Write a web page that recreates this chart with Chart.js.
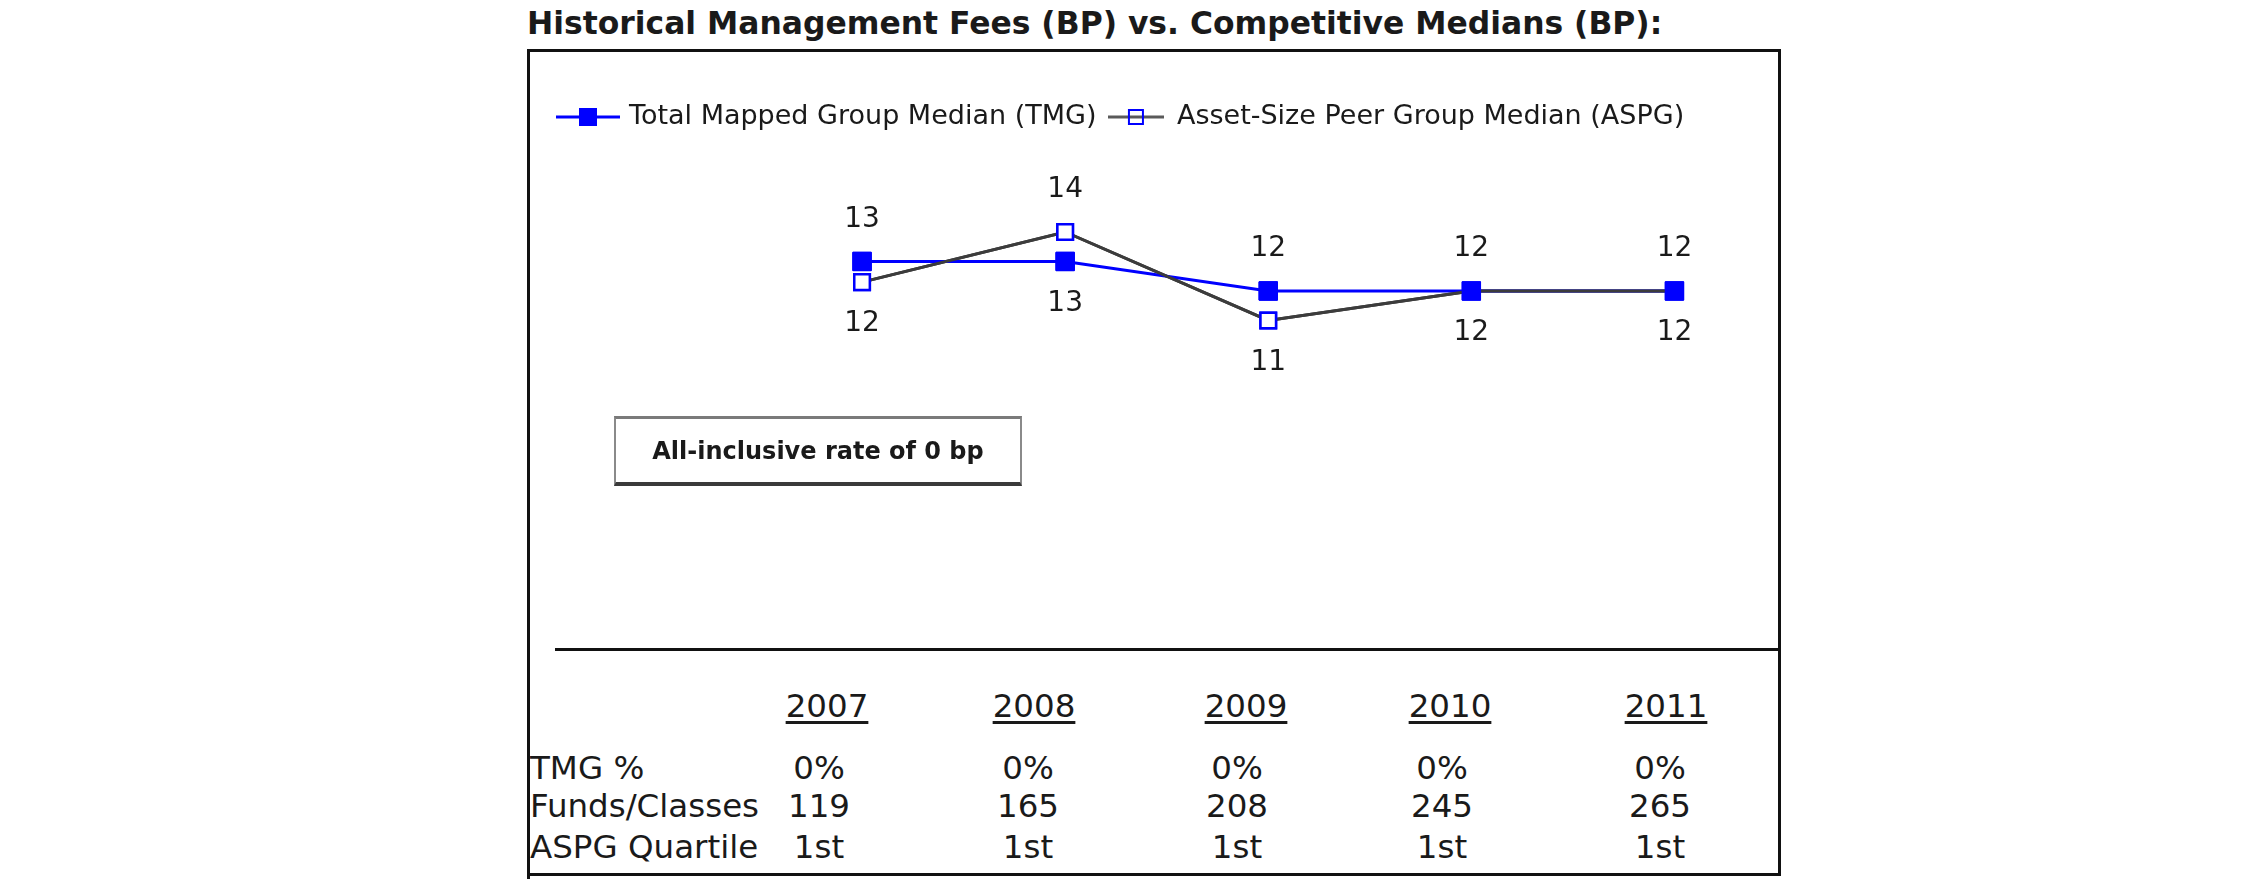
<!DOCTYPE html>
<html>
<head>
<meta charset="utf-8">
<title>Historical Management Fees vs. Competitive Medians</title>
<script src="https://cdn.jsdelivr.net/npm/chart.js@4.4.1/dist/chart.umd.min.js"></script>
<style>
  html, body { margin: 0; padding: 0; background: #fff; }
  body { width: 2250px; height: 895px; position: relative; overflow: hidden;
         font-family: "DejaVu Sans", Verdana, sans-serif; color: #1a1a1a; }
  .title { position: absolute; left: 527px; top: 8px; font-size: 31.4px; line-height: 31px;
           font-weight: bold; white-space: nowrap; }
  .frame { position: absolute; left: 527px; top: 49px; width: 1248px; height: 821px;
           border: 3px solid #111; }
  .tail { position: absolute; left: 527px; top: 873px; width: 3px; height: 6px; background: #111; }
  .rule { position: absolute; left: 555px; top: 648px; width: 1226px; height: 3px; background: #111; }
  #feeChart { position: absolute; left: 528px; top: 50px; }
  .note { position: absolute; left: 614px; top: 416px; width: 408px; height: 70px; box-sizing: border-box;
          border-top: 3px solid #7a7a7a; border-left: 2px solid #8a8a8a; border-right: 2px solid #8a8a8a;
          border-bottom: 4px solid #3a3a3a; display: flex; align-items: center; justify-content: center;
          font-size: 24px; font-weight: bold; white-space: nowrap; }
  .cell { position: absolute; font-size: 32.5px; line-height: 33px; white-space: nowrap; }
  .cell.mid { transform: translateX(-50%); }
  .cell.year { text-decoration: underline; text-decoration-thickness: 3px; text-underline-offset: 4px; }
</style>
</head>
<body>
<div class="title">Historical Management Fees (BP) vs. Competitive Medians (BP):</div>
<div class="frame"></div>
<div class="tail"></div>
<canvas id="feeChart" width="1262" height="598"></canvas>
<div class="note">All-inclusive rate of 0 bp</div>
<div class="rule"></div>
<div id="table"></div>
<script>
const years = ['2007', '2008', '2009', '2010', '2011'];
const tmgMedian = [13, 13, 12, 12, 12];
const aspgMedian = [12.3, 14, 11, 12, 12];
const tmgPct = ['0%', '0%', '0%', '0%', '0%'];
const fundsClasses = [119, 165, 208, 245, 265];
const aspgQuartile = ['1st', '1st', '1st', '1st', '1st'];
const rowLabels = ['TMG %', 'Funds/Classes', 'ASPG Quartile'];

const BLUE = '#0000ff';
const GREY = '#3c3c3c';
const TEXT = '#1a1a1a';
const FONT = '"DejaVu Sans", Verdana, sans-serif';
const LABEL_GAP = 42;

// table under the chart (column centres in page px)
(function () {
  const YEAR_X = [827, 1034, 1246, 1450, 1666];
  const VALUE_X = [819, 1028, 1237, 1442, 1660];
  const HEAD_Y = 706;
  const ROW_Y = [768, 806, 847];
  const host = document.getElementById('table');
  const add = (text, x, y, cls) => {
    const el = document.createElement('span');
    el.className = 'cell ' + cls;
    el.textContent = text;
    el.style.left = x + 'px';
    el.style.top = (y - 16.5) + 'px';
    host.appendChild(el);
  };
  years.forEach((y, i) => add(y, YEAR_X[i], HEAD_Y, 'mid year'));
  [tmgPct, fundsClasses, aspgQuartile].forEach((row, r) => {
    add(rowLabels[r], 530, ROW_Y[r], '');
    row.forEach((v, i) => add(String(v), VALUE_X[i], ROW_Y[r], 'mid'));
  });
})();

// legend symbols: a short line with the series marker on it
const legendSymbol = (w, lineColor, fill, stroke, side) => {
  const c = document.createElement('canvas');
  c.width = w;
  c.height = 24;
  const g = c.getContext('2d');
  g.strokeStyle = lineColor;
  g.lineWidth = 3;
  g.beginPath();
  g.moveTo(0, 12);
  g.lineTo(w, 12);
  g.stroke();
  const x0 = w / 2 - side / 2;
  if (fill) {
    g.fillStyle = fill;
    g.fillRect(x0, 12 - side / 2, side, side);
  } else {
    g.strokeStyle = stroke;
    g.lineWidth = 2;
    g.strokeRect(x0, 12 - side / 2, side, side);
  }
  return c;
};
const symbols = [
  legendSymbol(64, BLUE, BLUE, null, 18),
  legendSymbol(56, '#5a5a5a', null, BLUE, 14)
];

// draw ASPG line over the TMG line, markers last (TMG on top)
const layering = {
  id: 'layering',
  afterDatasetsDraw(chart) {
    const ctx = chart.ctx;
    const area = chart.chartArea;
    const tmg = chart.getDatasetMeta(0);
    const aspg = chart.getDatasetMeta(1);
    aspg.dataset.draw(ctx, area);
    aspg.data.forEach((p) => p.draw(ctx, area));
    tmg.data.forEach((p) => p.draw(ctx, area));
  }
};

// value labels, placed on the side away from the other series
const pointLabels = {
  id: 'pointLabels',
  afterDatasetsDraw(chart) {
    const ctx = chart.ctx;
    const sets = chart.data.datasets;
    ctx.save();
    ctx.font = '28px ' + FONT;
    ctx.fillStyle = TEXT;
    ctx.textAlign = 'center';
    ctx.textBaseline = 'middle';
    sets.forEach((ds, i) => {
      const other = sets[1 - i].data;
      chart.getDatasetMeta(i).data.forEach((pt, j) => {
        const v = ds.data[j];
        const up = i === 0 ? v >= other[j] : v > other[j];
        ctx.fillText(String(Math.round(v)), pt.x, pt.y + (up ? -LABEL_GAP : LABEL_GAP));
      });
    });
    ctx.restore();
  }
};

new Chart(document.getElementById('feeChart').getContext('2d'), {
  type: 'line',
  data: {
    labels: years,
    datasets: [{
      label: 'Total Mapped Group Median (TMG)',
      data: tmgMedian,
      borderColor: BLUE,
      backgroundColor: BLUE,
      borderWidth: 3,
      pointStyle: 'rect',
      pointRadius: 13,
      pointBorderWidth: 1,
      pointBorderColor: BLUE,
      pointBackgroundColor: BLUE
    }, {
      label: 'Asset-Size Peer Group Median (ASPG)',
      data: aspgMedian,
      borderColor: GREY,
      backgroundColor: GREY,
      borderWidth: 3,
      pointStyle: 'rect',
      pointRadius: 11,
      pointBorderWidth: 2.5,
      pointBorderColor: BLUE,
      pointBackgroundColor: '#fff'
    }]
  },
  options: {
    responsive: false,
    animation: false,
    devicePixelRatio: 1,
    layout: { padding: { left: 20.5, top: 41.5, right: 0, bottom: 32.5 } },
    plugins: {
      legend: {
        align: 'start',
        labels: {
          color: TEXT,
          font: { family: FONT, size: 27 },
          padding: 12,
          usePointStyle: true,
          pointStyleWidth: 55,
          generateLabels: (chart) => chart.data.datasets.map((ds, i) => ({
            text: ds.label,
            datasetIndex: i,
            pointStyle: symbols[i],
            fillStyle: ds.borderColor,
            strokeStyle: ds.borderColor,
            lineWidth: 0,
            fontColor: TEXT,
            hidden: false
          }))
        }
      },
      tooltip: { enabled: false }
    },
    scales: {
      x: { display: false, offset: true },
      y: {
        min: 1,
        max: 17.1,
        ticks: { display: false },
        grid: { display: false },
        border: { display: false },
        afterFit: (scale) => { scale.width = 212; }
      }
    }
  },
  plugins: [layering, pointLabels]
});
</script>
</body>
</html>
